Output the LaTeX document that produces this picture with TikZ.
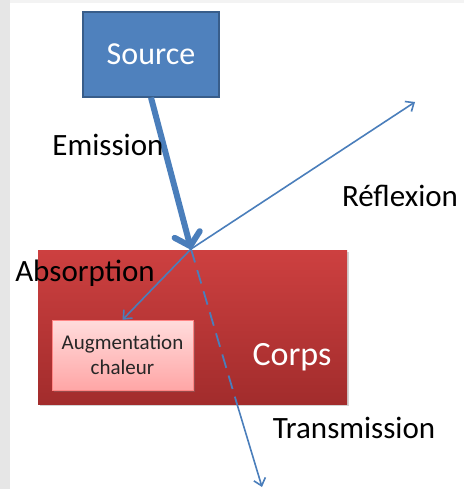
\documentclass[tikz,border=0pt]{standalone}
\usepackage{fontspec}
\setmainfont{Carlito}
\usetikzlibrary{arrows.meta,shadows}
\definecolor{beam}{HTML}{4A7EBB}
\definecolor{srcfill}{HTML}{4F81BD}
\definecolor{srcedge}{HTML}{385D8A}
\definecolor{bodytop}{HTML}{CD4040}
\definecolor{bodybot}{HTML}{A22C2C}
\definecolor{heattop}{HTML}{FFDCDC}
\definecolor{heatbot}{HTML}{FFA6A6}
\definecolor{grain}{HTML}{E6E6E6}
\tikzset{
  label text/.style={font=\fontsize{31}{34}\selectfont, text=black},
  ray/.style={draw=beam, line width=1.6pt, -{Straight Barb[length=7pt,width=12pt]}},
  blockbox/.style={draw=srcedge, fill=srcfill, line width=1.2pt, text=white,
    font=\fontsize{32}{36}\selectfont},
}
\begin{document}
\begin{tikzpicture}[x=1pt,y=-1pt]
  \useasboundingbox (0,0) rectangle (464,489);
  % grainy margin strips
  \fill[grain] (0,0) rectangle (10,489);
  \fill[grain!50] (10,0) rectangle (464,3);

  % emitter
  \node[blockbox, minimum width=136pt, minimum height=85pt, inner sep=0pt]
    (source) at (151,54.5) {Source};

  % body
  \node[draw=none, top color=bodytop, bottom color=bodybot,
        minimum width=309pt, minimum height=154pt, inner sep=0pt,
        drop shadow={opacity=0.35, shadow xshift=1.5pt, shadow yshift=-1.5pt}]
    (corps) at (192.5,327) {};
  \node[text=white, font=\fontsize{34}{38}\selectfont] (corpslabel) at (292,357) {Corps};

  % heat box inside the body
  \node[draw=heatbot!80!red, line width=0.4pt, top color=heattop, bottom color=heatbot,
        minimum width=141pt, minimum height=70pt, inner sep=0pt, align=center,
        font=\fontsize{21}{25}\selectfont, text=black!85,
        drop shadow={opacity=0.35, shadow xshift=1.5pt, shadow yshift=-1.5pt}]
    (chaleur) at (122.5,355) {Augmentation\\chaleur};

  % ray geometry
  \coordinate (hit) at (191,249);
  \coordinate (reflend) at (415,102);
  \coordinate (exit) at (237,404);
  \coordinate (transend) at (262,487);

  % incoming beam
  \draw[draw=beam, line width=6pt,
        -{Straight Barb[length=12pt,width=26pt,round]}]
    (source.south) -- (hit);

  % reflected, absorbed and transmitted rays
  \draw[ray] (hit) -- (reflend);
  \draw[ray] (hit) -- (chaleur.north);
  \draw[draw=beam, line width=1.8pt, dash pattern=on 14pt off 8pt] (hit) -- (exit);
  \draw[ray] (exit) -- (transend);

  % labels
  \node[label text] (emission) at (108,145) {Emission};
  \node[label text] (reflexion) at (400,196) {Réflexion};
  \node[label text] (absorption) at (85,273) {Absorption};
  \node[label text] (transmission) at (354,428) {Transmission};
\end{tikzpicture}
\end{document}
